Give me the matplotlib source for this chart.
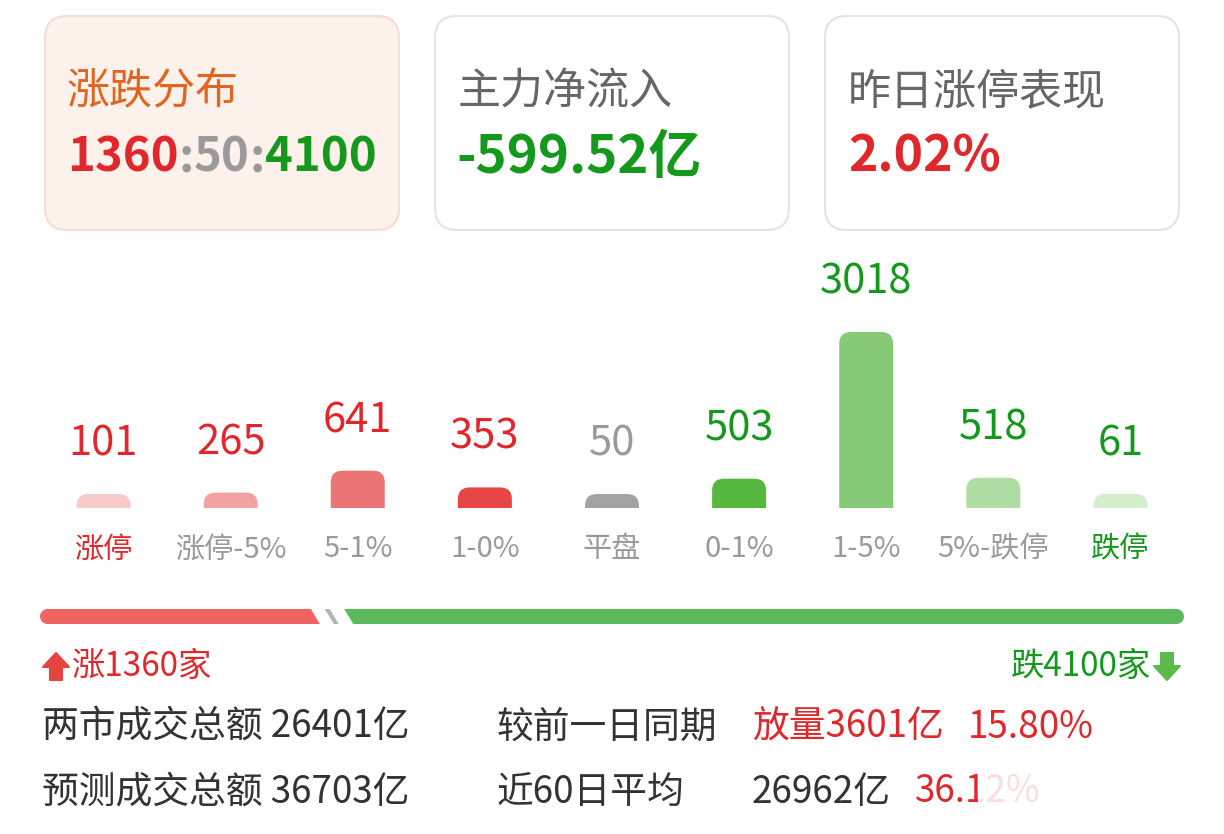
import numpy as np
import matplotlib
matplotlib.use("Agg")
import matplotlib.pyplot as plt
from matplotlib.patches import FancyBboxPatch, Polygon, Rectangle

plt.rcParams['font.family'] = ['Noto Sans CJK SC', 'DejaVu Sans']

# data
categories = ['涨停', '涨停-5%', '5-1%', '1-0%', '平盘', '0-1%', '1-5%', '5%-跌停', '跌停']
counts = [101, 265, 641, 353, 50, 503, 3018, 518, 61]
bar_colors = ['#f8caca', '#f1a3a3', '#ec7676', '#e84646', '#a3a3a3',
              '#57b83f', '#86ca77', '#afdca2', '#d4eecd']

up_count = 1360
flat_count = 50
down_count = 4100
net_inflow = '-599.52亿'
limit_up_perf = '2.02%'

turnover_label = ['两市成交总额 26401亿', '预测成交总额 36703亿']
compare_label = ['较前一日同期', '近60日平均']
compare_value = ['放量3601亿', '26962亿']
compare_pct = ['15.80%', '36.12%']

RED = '#e0282c'
GREEN = '#14991c'
GRAY = '#9a9a9a'
DARK = '#333333'

W, H = 1224, 834
fig = plt.figure(figsize=(W / 100, H / 100), dpi=100)
fig.patch.set_facecolor('white')

# full-figure pixel axes for the card layout
ui = fig.add_axes([0, 0, 1, 1])
ui.set_xlim(0, W)
ui.set_ylim(H, 0)
ui.axis('off')

# cards
cards = [(45, '#fdf1eb', '#f5ddd1'), (435, 'white', '#e3e3e3'), (825, 'white', '#e3e3e3')]
for x, fc, ec in cards:
    ui.add_patch(FancyBboxPatch((x, 16), 354, 214, boxstyle='round,pad=0,rounding_size=22',
                                fc=fc, ec=ec, lw=1.5))

ui.text(67, 92, '涨跌分布', fontsize=31, color='#e0661f', va='center')
ui.text(458, 92, '主力净流入', fontsize=31, color='#666666', va='center')
ui.text(848, 92, '昨日涨停表现', fontsize=31, color='#666666', va='center')

# multicolour ratio text
parts = [(str(up_count), RED), (':', GRAY), (str(flat_count), GRAY), (':', GRAY), (str(down_count), GREEN)]
t = ui.text(67, 157, parts[0][0], fontsize=34, fontweight='bold', color=parts[0][1], va='center')
for s, c in parts[1:]:
    t = ui.annotate(s, xycoords=t, xy=(1, 0), va='bottom', fontsize=34,
                    fontweight='bold', color=c)

ui.text(456, 157, net_inflow, fontsize=38, fontweight='bold', color=GREEN, va='center')
ui.text(848, 157, limit_up_perf, fontsize=36, fontweight='bold', color=RED, va='center')

# bar chart
px_per_unit = 176 / 3018
base_y = 508
top_y = 250
ax = fig.add_axes([40 / W, 1 - base_y / H, 1144 / W, (base_y - top_y) / H])
ax.set_xlim(-0.5, len(categories) - 0.5)
ax.set_ylim(0, (base_y - top_y) / px_per_unit)
ax.patch.set_alpha(0)
for sp in ax.spines.values():
    sp.set_visible(False)
ax.set_yticks([])

min_h = 14 / px_per_unit
shown = [max(v, min_h) for v in counts]
bars = ax.bar(range(len(counts)), shown, width=54 / 127.1, color=bar_colors)

r_x = 12 / 127.1
r_y = 12 / px_per_unit
for rect, c in zip(bars, bar_colors):
    rect.set_visible(False)
    ax.add_patch(FancyBboxPatch((rect.get_x(), -r_y), rect.get_width(), rect.get_height() + r_y,
                                boxstyle=f'round,pad=0,rounding_size={r_x}',
                                mutation_aspect=r_y / r_x, fc=c, ec='none'))

label_colors = [RED] * 4 + [GRAY] + [GREEN] * 4
for i, (v, h) in enumerate(zip(counts, shown)):
    ax.annotate(str(v), xy=(i, h), xytext=(0, 50 * 0.72), textcoords='offset points',
                ha='center', va='center', fontsize=30, color=label_colors[i])

ax.set_xticks(range(len(categories)), categories)
ax.tick_params(axis='x', length=0, pad=19, labelsize=21)
tick_colors = [RED] + [GRAY] * 7 + [GREEN]
for lab, c in zip(ax.get_xticklabels(), tick_colors):
    lab.set_color(c)

# proportion bar
x0, x1 = 40, 1184
total = up_count + flat_count + down_count
b1 = x0 + (x1 - x0) * up_count / total
b2 = x0 + (x1 - x0) * (up_count + flat_count) / total
y_top, y_bot = 609, 624
r = (y_bot - y_top) / 2
cy = (y_top + y_bot) / 2
sl = 4.5

red_end = b1 - 7
gray_c = b2 - 1
green_start = b2 + 16

th = np.linspace(np.pi / 2, 3 * np.pi / 2, 20)
red_pts = [(x0 + r + r * np.cos(a), cy + r * np.sin(a)) for a in th]
red_pts += [(red_end - sl, y_top), (red_end + sl, y_bot)]
ui.add_patch(Polygon(red_pts, closed=True, fc='#f06462', ec='none'))

ui.add_patch(Polygon([(gray_c - 2.5 - sl, y_top), (gray_c + 2.5 - sl, y_top),
                      (gray_c + 2.5 + sl, y_bot), (gray_c - 2.5 + sl, y_bot)],
                     closed=True, fc='#b5b5b5', ec='none'))

th = np.linspace(-np.pi / 2, np.pi / 2, 20)
green_pts = [(green_start - sl, y_top)]
green_pts += [(x1 - r + r * np.cos(a), cy + r * np.sin(a)) for a in th]
green_pts += [(green_start + sl, y_bot)]
ui.add_patch(Polygon(green_pts, closed=True, fc='#5cba5c', ec='none'))

# arrows + counts
ax_c = 56
ui.add_patch(Polygon([(ax_c, 653), (ax_c + 13, 667), (ax_c + 6, 667), (ax_c + 6, 680),
                      (ax_c - 6, 680), (ax_c - 6, 667), (ax_c - 13, 667)],
                     closed=True, fc='#e8443f', ec='#e8443f', lw=1.5, joinstyle='round'))
ui.text(72, 666, f'涨{up_count}家', fontsize=24, color=RED, va='center')

dx_c = 1167
ui.add_patch(Polygon([(dx_c, 680), (dx_c + 13, 666), (dx_c + 6, 666), (dx_c + 6, 653),
                      (dx_c - 6, 653), (dx_c - 6, 666), (dx_c - 13, 666)],
                     closed=True, fc='#5cba4a', ec='#5cba4a', lw=1.5, joinstyle='round'))
ui.text(1151, 666, f'跌{down_count}家', fontsize=24, color=GREEN, va='center', ha='right')

# turnover rows
rows_y = [727, 792]
for i, y in enumerate(rows_y):
    ui.text(42, y, turnover_label[i], fontsize=26.5, color=DARK, va='center')
    ui.text(497, y, compare_label[i], fontsize=26.5, color=DARK, va='center')
ui.text(752, rows_y[0], compare_value[0], fontsize=26.5, color=RED, va='center')
ui.text(968, rows_y[0], compare_pct[0], fontsize=26.5, color=RED, va='center')
ui.text(752, rows_y[1], compare_value[1], fontsize=26.5, color=DARK, va='center')
ui.text(915, rows_y[1], compare_pct[1], fontsize=26.5, color=RED, va='center')

# watermark covering the tail of the last row
ui.add_patch(Rectangle((978, 766), 240, 54, fc='white', ec='none', alpha=0.85, zorder=5))

fig.savefig('out.png', dpi=100, facecolor='white')
